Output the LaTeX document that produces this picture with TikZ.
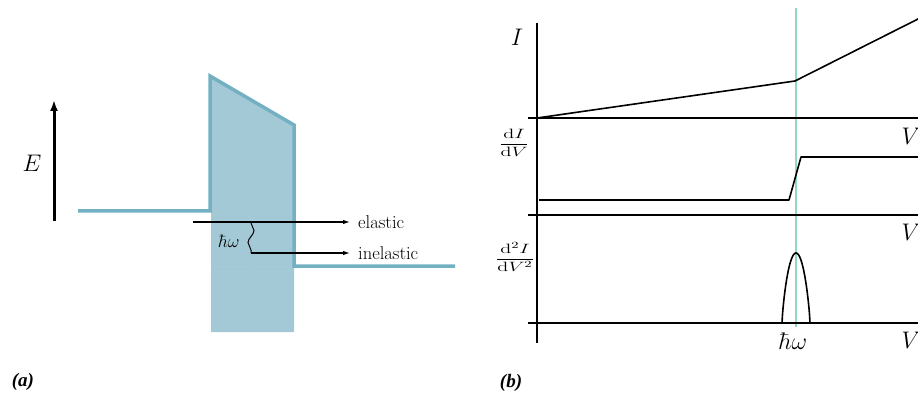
\RequirePackage{fix-cm}
\documentclass[tikz,border=0pt]{standalone}
\usepackage{fontspec}
\newfontfamily\panelfont{Liberation Serif}
\usetikzlibrary{arrows.meta,decorations.pathmorphing}
\definecolor{barfill}{RGB}{163,201,214}
\definecolor{barline}{RGB}{114,176,194}
\definecolor{markline}{RGB}{142,216,196}
\begin{document}
\begin{tikzpicture}[x=1pt,y=-1pt,
  axis/.style={line width=1.6pt},
  curve/.style={line width=1.6pt},
  arr/.style={line width=1.2pt,-{Latex[length=7pt,width=4.5pt]}},
  lbl/.style={font=\fontsize{18.5}{21}\selectfont,anchor=west,inner xsep=8pt,inner ysep=0pt},
  big/.style={font=\fontsize{24}{28}\selectfont,inner sep=0pt},
  frac/.style={font=\fontsize{13.5}{16}\selectfont,inner sep=0pt,xscale=1.5,transform shape},
  panel/.style={font=\panelfont\fontsize{19}{22}\selectfont\bfseries\itshape,inner sep=0pt}]
\useasboundingbox (0,0) rectangle (918,398);
\clip (0,0) rectangle (918,398);
% ---------- panel (a) ----------
\fill[barfill] (211,77) -- (294,126) -- (294,332) -- (211,332) -- cycle;
\draw[barline!60,dotted,line width=0.8pt] (211,266) -- (294,266);
\draw[barline,line width=3.5pt,line join=miter]
  (78,211) -- (210,211) -- (210,76) -- (294,125) -- (294,266) -- (455,266);
\coordinate (eb) at (54,221);
\coordinate (et) at (54,100);
\draw[line width=3pt,-{Latex[length=11pt,width=8pt]}] (eb) -- (et);
\node[big] (E) at (32,163) {$E$};
\coordinate (el0) at (193,222);
\node[lbl] (elastic) at (350,222) {elastic};
\draw[arr] (el0) -- (elastic.west);
\coordinate (s0) at (251,222);
\coordinate (s1) at (251,253);
\draw[line width=1pt,decorate,decoration={snake,amplitude=3pt,segment length=24pt,pre length=1pt,post length=1pt}] (s0) -- (s1);
\node[lbl] (inelastic) at (350,253) {inelastic};
\draw[arr] (s1) -- (inelastic.west);
\node[font=\fontsize{18}{21}\selectfont,inner sep=0pt] (hw1) at (229,241) {$\hbar\omega$};
\node[panel] (pa) at (23,382) {(a)};
% ---------- panel (b) ----------
\coordinate (vt) at (537,23);
\coordinate (vb) at (537,343);
\draw[axis] (vt) -- (vb);
\coordinate (mt) at (796,8);
\coordinate (mb) at (796,327);
\draw[markline,line width=1.3pt] (mt) -- (mb);
% axes
\coordinate (a1l) at (528,118);
\coordinate (a1r) at (918,118);
\coordinate (a2l) at (528,215);
\coordinate (a2r) at (918,215);
\coordinate (a3l) at (528,323);
\coordinate (a3r) at (918,323);
\draw[axis] (a1l) -- (a1r);
\draw[axis] (a2l) -- (a2r);
\draw[axis] (a3l) -- (a3r);
% I(V)
\coordinate (i0) at (537,118);
\coordinate (i1) at (795,81);
\coordinate (i2) at (920,18);
\draw[curve,line join=round] (i0) -- (i1) -- (i2);
% dI/dV
\coordinate (d0) at (539,200);
\coordinate (d1) at (789,200);
\coordinate (d2) at (801,157);
\coordinate (d3) at (920,157);
\draw[curve,line join=round] (d0) -- (d1) -- (d2) -- (d3);
% d2I/dV2 peak
\draw[curve] plot[domain=-14:14,samples=60,smooth] ({796+\x},{323-70*(1-(\x/14)^2)^0.8});
% labels
\node[big] (lI) at (517,37) {$I$};
\node[big] (V1) at (911,136) {$V$};
\node[big] (V2) at (911,232) {$V$};
\node[big] (V3) at (911,340) {$V$};
\node[big] (hw2) at (793,341) {$\hbar\omega$};
\node[frac] (f1) at (514,143) {$\displaystyle\frac{\mathrm{d}I}{\mathrm{d}V}$};
\node[frac] (f2) at (515,257) {$\displaystyle\frac{\mathrm{d}^2I}{\mathrm{d}V^2}$};
\node[panel] (pb) at (511,383) {(b)};
\end{tikzpicture}
\end{document}
